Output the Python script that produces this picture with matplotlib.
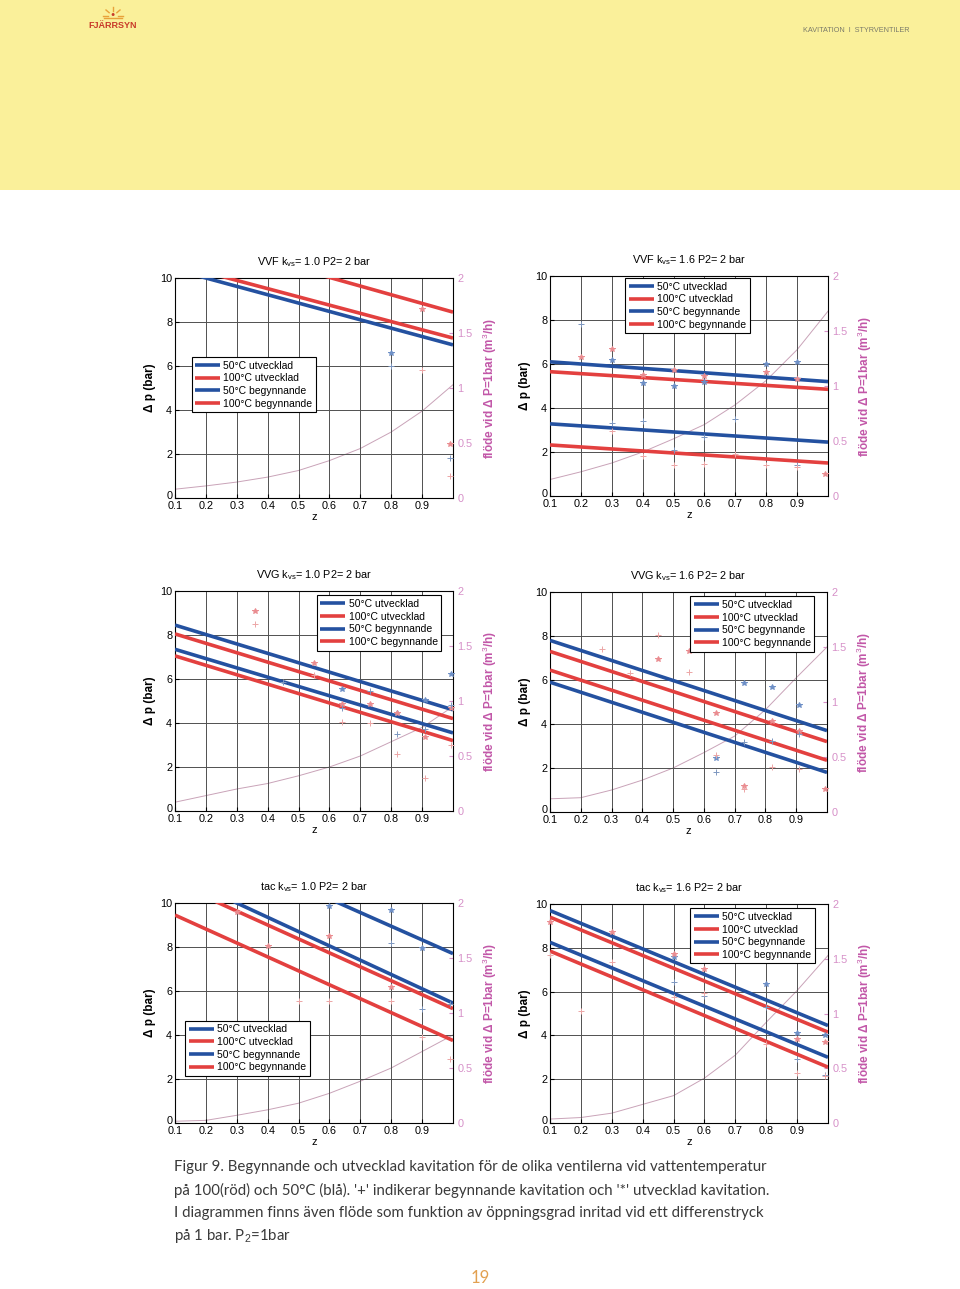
import matplotlib
matplotlib.use("Agg")
import matplotlib.pyplot as plt
import matplotlib.transforms as mtransforms
from matplotlib.patches import Rectangle
from matplotlib.lines import Line2D

plt.rcParams['font.family'] = ['Liberation Sans', 'DejaVu Sans']
plt.rcParams['mathtext.fontset'] = 'custom'
plt.rcParams['mathtext.rm'] = 'Liberation Sans'
plt.rcParams['mathtext.it'] = 'Liberation Sans:italic'

W, H = 960, 1289

# ---- data ----
series_labels = ['50°C utvecklad', '100°C utvecklad', '50°C begynnande', '100°C begynnande']
z_line = [0.1, 1.0]
z_flow = [0.1, 0.2, 0.3, 0.4, 0.5, 0.6, 0.7, 0.8, 0.9, 1.0]

# VVF kvs=1.0
vvf10_lines = [[14.0, 10.5], [12.0, 8.45], [10.38, 6.96], [10.64, 7.27]]
vvf10_flow = [0.08, 0.11, 0.145, 0.19, 0.25, 0.34, 0.45, 0.60, 0.79, 1.03]
vvf10_star_blue = [(0.8, 6.6)]
vvf10_star_red = [(0.9, 8.6), (0.99, 2.45)]
vvf10_plus_blue = [(0.8, 6.0), (0.99, 1.8)]
vvf10_plus_red = [(0.9, 5.8), (0.99, 1.0)]

# VVF kvs=1.6
vvf16_lines = [[6.1, 5.2], [5.65, 4.85], [3.28, 2.45], [2.32, 1.5]]
vvf16_flow = [0.15, 0.22, 0.30, 0.40, 0.52, 0.65, 0.83, 1.05, 1.33, 1.68]
vvf16_star_blue = [(0.3, 6.2), (0.4, 5.15), (0.5, 5.0), (0.6, 5.2), (0.8, 6.0), (0.9, 6.1)]
vvf16_star_red = [(0.2, 6.3), (0.3, 6.7), (0.4, 5.5), (0.5, 5.75), (0.6, 5.45), (0.8, 5.65),
                  (0.9, 5.3), (0.99, 1.0)]
vvf16_plus_blue = [(0.2, 7.8), (0.3, 3.3), (0.4, 3.4), (0.5, 2.1), (0.6, 2.7), (0.7, 3.5), (0.9, 1.4)]
vvf16_plus_red = [(0.3, 2.95), (0.4, 1.8), (0.5, 1.4), (0.6, 1.45), (0.7, 1.9), (0.8, 1.4), (0.9, 1.3)]

# VVG kvs=1.0
vvg10_lines = [[8.45, 4.6], [8.05, 4.2], [7.35, 3.55], [7.05, 3.2]]
vvg10_flow = [0.08, 0.14, 0.20, 0.25, 0.32, 0.40, 0.50, 0.63, 0.76, 0.95]
vvg10_star_blue = [(0.64, 5.55), (0.82, 4.45), (0.91, 5.05), (0.995, 6.25)]
vvg10_star_red = [(0.36, 9.1), (0.55, 6.75), (0.64, 4.85), (0.73, 4.85), (0.82, 4.45),
                  (0.91, 3.35), (0.995, 4.7)]
vvg10_plus_blue = [(0.45, 5.85), (0.64, 4.7), (0.73, 5.45), (0.82, 3.5), (0.91, 3.75), (0.995, 4.8)]
vvg10_plus_red = [(0.36, 8.5), (0.55, 6.2), (0.64, 4.05), (0.73, 4.0), (0.82, 2.6), (0.91, 1.5),
                  (0.995, 3.0)]

# VVG kvs=1.6
vvg16_lines = [[7.8, 3.7], [7.3, 3.2], [5.9, 1.8], [6.45, 2.35]]
vvg16_flow = [0.12, 0.13, 0.20, 0.29, 0.40, 0.54, 0.69, 0.93, 1.22, 1.50]
vvg16_star_blue = [(0.64, 2.45), (0.73, 5.85), (0.82, 5.7), (0.91, 4.85)]
vvg16_star_red = [(0.45, 6.95), (0.55, 7.3), (0.64, 4.5), (0.73, 1.2), (0.82, 4.15), (0.91, 3.7),
                  (0.995, 1.05)]
vvg16_plus_blue = [(0.64, 1.8), (0.73, 3.2), (0.82, 3.25), (0.91, 3.55)]
vvg16_plus_red = [(0.27, 7.4), (0.36, 6.3), (0.45, 8.05), (0.55, 6.35), (0.64, 2.6), (0.73, 1.05),
                  (0.82, 2.05), (0.91, 1.95)]

# tac kvs=1.0
tac10_lines = [[13.3, 7.7], [10.9, 5.2], [11.3, 5.45], [9.45, 3.75]]
tac10_flow = [0.016, 0.024, 0.07, 0.12, 0.18, 0.27, 0.38, 0.50, 0.65, 0.80]
tac10_star_blue = [(0.6, 9.85), (0.8, 9.7), (0.9, 7.95)]
tac10_star_red = [(0.3, 9.6), (0.4, 8.05), (0.6, 8.5), (0.8, 6.2)]
tac10_plus_blue = [(0.8, 8.2), (0.9, 5.2), (0.99, 5.4)]
tac10_plus_red = [(0.5, 5.55), (0.6, 5.55), (0.8, 5.55), (0.9, 3.9), (0.99, 2.9)]

# tac kvs=1.6
tac16_lines = [[9.7, 4.45], [9.4, 4.15], [8.25, 3.0], [7.85, 2.55]]
tac16_flow = [0.036, 0.05, 0.09, 0.17, 0.25, 0.41, 0.62, 0.92, 1.21, 1.53]
tac16_star_blue = [(0.5, 7.6), (0.8, 6.35), (0.9, 4.1), (0.99, 4.0)]
tac16_star_red = [(0.1, 9.2), (0.3, 8.7), (0.5, 7.7), (0.6, 7.05), (0.9, 3.85), (0.99, 3.7)]
tac16_plus_blue = [(0.5, 6.45), (0.6, 5.8), (0.8, 5.3), (0.9, 2.9), (0.99, 2.2)]
tac16_plus_red = [(0.1, 7.65), (0.2, 5.1), (0.3, 7.35), (0.5, 5.75), (0.6, 5.95), (0.8, 3.6),
                  (0.9, 2.3), (0.99, 2.15)]

titles = [r'VVF k$_{\mathrm{vs}}$= 1.0 P2= 2 bar', r'VVF k$_{\mathrm{vs}}$= 1.6 P2= 2 bar',
          r'VVG k$_{\mathrm{vs}}$= 1.0 P2= 2 bar', r'VVG k$_{\mathrm{vs}}$= 1.6 P2= 2 bar',
          r'tac k$_{\mathrm{vs}}$= 1.0 P2= 2 bar', r'tac k$_{\mathrm{vs}}$= 1.6 P2= 2 bar']

caption = ["Figur 9. Begynnande och utvecklad kavitation för de olika ventilerna vid vattentemperatur",
           "på 100(röd) och 50°C (blå). '+' indikerar begynnande kavitation och '*' utvecklad kavitation.",
           "I diagrammen finns även flöde som funktion av öppningsgrad inritad vid ett differenstryck",
           r"på 1 bar. P$_{2}$=1bar"]

panels = [
    (vvf10_lines, vvf10_flow, vvf10_star_blue, vvf10_star_red, vvf10_plus_blue, vvf10_plus_red),
    (vvf16_lines, vvf16_flow, vvf16_star_blue, vvf16_star_red, vvf16_plus_blue, vvf16_plus_red),
    (vvg10_lines, vvg10_flow, vvg10_star_blue, vvg10_star_red, vvg10_plus_blue, vvg10_plus_red),
    (vvg16_lines, vvg16_flow, vvg16_star_blue, vvg16_star_red, vvg16_plus_blue, vvg16_plus_red),
    (tac10_lines, tac10_flow, tac10_star_blue, tac10_star_red, tac10_plus_blue, tac10_plus_red),
    (tac16_lines, tac16_flow, tac16_star_blue, tac16_star_red, tac16_plus_blue, tac16_plus_red),
]

# ---- layout (pixel boxes: left, top, right, bottom) ----
boxes = [(175, 278, 453, 498), (550, 276, 828, 496),
         (175, 591, 453, 811), (550, 592, 827, 812),
         (175, 903, 453, 1123), (550, 904, 828, 1123)]
legend_pos = [(0.06, 0.64), (0.27, 0.99), (0.51, 0.98), (0.505, 0.98), (0.036, 0.465), (0.505, 0.98)]

BLUE = '#2451a0'
RED = '#e3403f'
line_colors = [BLUE, RED, BLUE, RED]
PINK = '#c257a8'
PINK_LIGHT = '#d690c8'

fig = plt.figure(figsize=(W / 100, H / 100), dpi=100)
fig.patch.set_facecolor('white')

# yellow header band
fig.add_artist(Rectangle((0, 1 - 190 / H), 1, 190 / H, transform=fig.transFigure,
                         facecolor='#faf09a', edgecolor='none', zorder=0))
# logo: small sun over the name
sx, sy = 113 / W, 1 - 16 / H
for dx, dy in [(-10, 0), (-7, 6), (0, 9), (7, 6), (10, 0)]:
    fig.add_artist(Line2D([sx + dx * 0.55 / W, sx + dx / W], [sy + dy * 0.55 / H, sy + dy / H],
                          transform=fig.transFigure, color='#e8a23a', lw=1.0))
fig.add_artist(Line2D([sx - 9 / W, sx + 9 / W], [sy - 2 / H, sy - 2 / H],
                      transform=fig.transFigure, color='#e8a23a', lw=1.0))
fig.text(sx, sy + 1 / H, '●', ha='center', va='center', fontsize=5, color='#c83a2a')
fig.text(113 / W, 1 - 25 / H, 'FJÄRRSYN', ha='center', va='center', fontsize=6.5,
         color='#c83a2a', fontweight='bold')
fig.text(856 / W, 1 - 30 / H, 'KAVITATION  I  STYRVENTILER', ha='center', va='center',
         fontsize=5.2, color='#7a7a6a')

# nudge for the "0" tick label so it clears the "0.1" below it
up = mtransforms.ScaledTranslation(0, 3 / 100, fig.dpi_scale_trans)

for i, (lines, flow, sb, sr, pb, pr) in enumerate(panels):
    l, t, r, b = boxes[i]
    ax = fig.add_axes([l / W, 1 - b / H, (r - l) / W, (b - t) / H])
    ax.set_xlim(0.1, 1.0)
    ax.set_ylim(0, 10)
    ax.set_xticks([0.1, 0.2, 0.3, 0.4, 0.5, 0.6, 0.7, 0.8, 0.9])
    ax.set_xticklabels(['0.1', '0.2', '0.3', '0.4', '0.5', '0.6', '0.7', '0.8', '0.9'])
    ax.set_yticks([0, 2, 4, 6, 8, 10])
    ax.grid(True, color='#505050', lw=0.7)
    ax.tick_params(direction='in', labelsize=7.8, pad=2, length=3)
    for sp in ax.spines.values():
        sp.set_linewidth(0.7)
    zero_lab = ax.get_yticklabels()[0]
    zero_lab.set_transform(zero_lab.get_transform() + up)

    for k in range(4):
        ax.plot(z_line, lines[k], color=line_colors[k], lw=2.6, label=series_labels[k],
                solid_capstyle='butt', zorder=4)
    for pts, mk, col, ms in [(sb, '*', '#6d8fc6', 4), (sr, '*', '#ea8c90', 4),
                             (pb, '+', '#7d97c0', 5), (pr, '+', '#eca6a6', 5)]:
        if pts:
            ax.plot([p[0] for p in pts], [p[1] for p in pts], ls='none', marker=mk,
                    ms=ms, mew=0.7, color=col, zorder=5, clip_on=False)

    leg = ax.legend(loc='upper left', bbox_to_anchor=legend_pos[i], fontsize=7.5,
                    frameon=True, fancybox=False, framealpha=1, edgecolor='black',
                    handlelength=2.4, handletextpad=0.3, labelspacing=0.25,
                    borderpad=0.35, borderaxespad=0)
    leg.get_frame().set_linewidth(0.8)
    leg.set_zorder(10)

    ax.set_title(titles[i], fontsize=7.8, pad=9)
    ax.set_ylabel('Δ p (bar)', fontsize=8.5, labelpad=3, fontweight='bold')
    ax.set_xlabel('z', fontsize=8, labelpad=1)

    ax2 = ax.twinx()
    ax2.set_ylim(0, 2)
    ax2.set_yticks([0, 0.5, 1, 1.5, 2])
    ax2.set_yticklabels(['0', '0.5', '1', '1.5', '2'])
    ax2.plot(z_flow, flow, color='#c9a3b8', lw=0.7, zorder=2)
    ax2.tick_params(direction='in', labelsize=7.8, pad=3, length=3, colors=PINK_LIGHT)
    ax2.spines['right'].set_color('black')
    ax2.set_ylabel('flöde vid Δ P=1bar (m$^3$/h)', fontsize=8.5, color=PINK, labelpad=6,
                   fontweight='bold')
    ax.set_zorder(ax2.get_zorder() + 1)
    ax.patch.set_visible(False)

# caption
for j, line in enumerate(caption):
    fig.text(174 / W, 1 - (1167 + j * 23) / H, line, fontsize=10.8, family=['Lato', 'DejaVu Sans'],
             color='#3a3a3a', ha='left', va='center')
fig.text(480 / W, 1 - 1278 / H, '19', fontsize=12, family=['Lato', 'DejaVu Sans'],
         color='#e2a050', ha='center', va='center')

fig.savefig('out.png', dpi=100)
